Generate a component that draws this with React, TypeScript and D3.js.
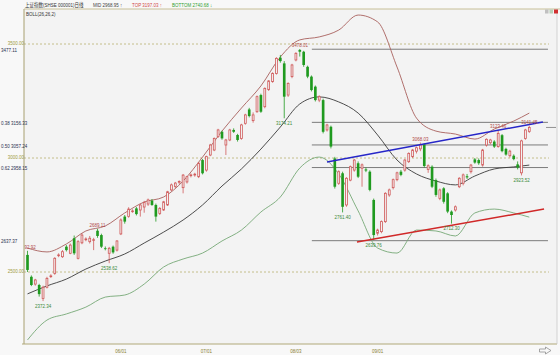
import React from "react";
import * as d3 from "d3";

const W = 560;
const H = 355;

// Daily OHLC (index 0 = first visible session)
const opens = [2575,2479,2447,2443,2384,2433,2480,2494,2572,2567,2611,2582,2648,2560,2628,2643,2633,2640,2681,2662,2604,2582,2611,2596,2667,2743,2743,2767,2779,2772,2785,2798,2813,2794,2757,2772,2794,2860,2875,2894,2870,2895,2924,2927,2918,2991,2947,3013,3035,3094,3115,3057,3079,3123,3101,3086,3152,3213,3164,3203,3276,3225,3300,3335,3371,3440,3415,3276,3357,3430,3474,3466,3400,3357,3313,3254,3254,3123,3137,2998,2889,2933,2794,2903,2947,2977,2955,2950,2940,2816,2670,2677,2721,2838,2870,2905,2940,2947,2984,3006,3030,3040,3060,2950,2962,2903,2823,2867,2845,2765,2772,2874,2889,2920,2940,2994,2991,2969,3057,3067,3072,3050,3100,3040,3010,3010,2972,2935,3086,3116];
const highs = [2592.92,2485,2470,2448,2440,2479,2490,2565,2582,2596,2618,2625,2660,2640,2670,2652,2658,2650,2689.11,2668,2612,2610,2616,2640,2735,2750,2784,2775,2785,2800,2812,2822,2820,2800,2785,2812,2856,2888,2895,2902,2930,2922,2932,2935,2982,2996,3010,3062,3090,3128,3120,3084,3128,3130,3106,3150,3194,3220,3200,3274,3282,3310,3342,3376,3442,3452,3425,3332,3413,3464,3478.01,3470,3405,3362,3318,3275,3260,3150,3142,3005,2946,2940,2916,2967,2996,2985,2976,2958,2946,2822,2690,2726,2850,2866,2910,2940,2948,2996,3025,3040,3050,3068.03,3064,2972,2968,2910,2866,2872,2850,2770,2792,2916,2932,2930,2974,3000,2998,3040,3086,3084,3078,3123.46,3105,3045,3036,3016,2985,3080,3128,3141.45];
const lows = [2500,2438,2440,2392,2372.34,2428,2474,2488,2565,2562,2590,2578,2575,2555,2622,2635,2625,2596,2650,2605,2595,2538.62,2580,2590,2662,2712,2738,2760,2748,2743,2760,2790,2790,2721,2750,2768,2790,2855,2868,2885,2845,2888,2915,2918,2912,2928,2940,3008,3030,3088,3080,3013,3074,3110,3072,3080,3146,3178,3155,3198,3198,3218,3294,3330,3366,3418,3174.21,3268,3350,3424,3445,3400,3350,3292,3248,3245,3108,3116,3042,2866,2882,2761.40,2786,2898,2940,2912,2874,2938,2854,2639.76,2660,2670,2715,2830,2862,2898,2920,2940,2978,3000,3020,3030,2958,2935,2868,2830,2815,2800,2758,2712.30,2765,2868,2880,2908,2932,2975,2970,2962,3050,3060,3044,3045,3025,3010,3002,2990,2950,2923.52,3080,3110];
const closes = [2509,2443,2465,2403,2433,2472,2483,2560,2575,2589,2596,2618,2582,2633,2662,2645,2648,2642,2658,2611,2603,2604,2586,2636,2728,2721,2776,2768,2754,2794,2805,2816,2794,2743,2779,2808,2852,2882,2890,2897,2925,2918,2926,2929,2977,2933,3006,3057,3086,3123,3086,3079,3123,3115,3079,3145,3189,3184,3189,3269,3203,3305,3338,3371,3437,3425,3269,3327,3408,3459,3466,3408,3357,3298,3254,3269,3115,3145,3050,2874,2940,2786,2911,2962,2991,2918,2970,2945,2860,2662,2684,2721,2845,2860,2905,2935,2926,2991,3020,3035,3045,3057,2965,2966,2874,2838,2860,2808,2765,2750,2786,2911,2926,2915,2969,2980,2977,3035,3082,3079,3050,3108,3030,3015,3030,2995,2958,3075,3123,3134];

// x-axis ticks
const tickIdx = [24, 46, 69, 90];
const tickLabels = ["06/01", "07/01", "08/03", "09/01"];

// BOLL(26,26,2) read at sampled sessions
const bandIdx = [0,5,10,15,20,25,30,35,40,45,50,55,60,65,70,75,80,85,90,95,100,105,110,115,120,125,129];
const bandUpper = [2605,2588,2623,2680,2702,2759,2807,2829,2899,3004,3118,3219,3316,3443,3518,3531,3561,3627,3597,3399,3175,3118,3105,3083,3127,3162,3197.03];
const bandMid = [2404,2439,2469,2513,2548,2579,2627,2675,2728,2794,2877,2952,3039,3136,3237,3268,3246,3197,3101,2991,2930,2899,2882,2921,2952,2961,2968.95];
const bandLower = [2202,2289,2316,2346,2390,2399,2447,2522,2557,2583,2636,2684,2763,2829,2956,3004,2930,2768,2605,2583,2684,2680,2658,2759,2776,2759,2740.68];

// price grid
const gridLevels = [3500, 3000, 2500];
const gridLabels = ["3500.00", "3000.00", "2500.00"];

// golden section lines
const fibLevels = [3477.11, 3156.33, 3057.24, 2958.15, 2637.37];
const fibLabels = ["3477.11", "0.38 3156.33", "0.50 3057.24", "0.62 2958.15", "2637.37"];
const fibRange = [73.1, 133.8];

// trend lines [index, price]
const blueLine = [[77.0, 2982.5], [132.5, 3158]];
const redLine = [[84.7, 2632], [132.8, 2776]];

// extreme labels
const markIdx = [0, 4, 18, 21, 66, 70, 81, 89, 101, 109, 121, 127, 129];
const markText = ["2592.92", "2372.34", "2689.11", "2538.62", "3174.21", "3478.01", "2761.40", "2639.76", "3068.03", "2712.30", "3123.46", "2923.52", "3141.45"];
const markIsHigh = [true, false, true, false, false, true, false, false, true, false, true, false, true];

const UP = "#d05a5a";
const DOWN = "#1f9a1f";
const PLOT_BG = "#f3f3f3";
const FONT = "'Liberation Sans', 'DejaVu Sans', 'Noto Sans CJK SC', sans-serif";

// narrow text: small glyphs squeezed horizontally
function T(props: { x: number; y: number; s: string; fill: string; anchor?: string }) {
  const { x, y, s, fill, anchor = "start" } = props;
  return (
    <g transform={`translate(${x},${y}) scale(0.82,1)`}>
      <text
        x={0}
        y={0}
        fill={fill}
        fontSize={5.5}
        fontFamily={FONT}
        textAnchor={anchor as any}
        dominantBaseline="central"
      >
        {s}
      </text>
    </g>
  );
}

export default function App() {
  const N = closes.length;
  const xs = d3.scaleLinear().domain([0, N - 1]).range([27.5, 529.3]);
  const ys = d3.scaleLinear().domain([2500, 3500]).range([272, 44]);
  const step = xs(1) - xs(0);
  const bw = step * 0.68;

  const plotL = 24, plotT = 9, plotR = 557, plotB = 344;

  const bandLine = (vals: number[]) =>
    d3
      .line<number>()
      .x((_, i) => xs(bandIdx[i]))
      .y((v) => ys(v))
      .curve(d3.curveMonotoneX)(vals) as string;

  const segLine = (pts: number[][]) =>
    d3
      .line<number[]>()
      .x((p) => xs(p[0]))
      .y((p) => ys(p[1]))(pts) as string;

  return (
    <svg
      width={W}
      height={H}
      viewBox={`0 0 ${W} ${H}`}
      style={{ position: "absolute", left: 0, top: 0, display: "block", background: "#f8f8f8" }}
    >
      <defs>
        <clipPath id="plotClip">
          <rect x={plotL} y={plotT} width={plotR - plotL} height={plotB - plotT} />
        </clipPath>
      </defs>
      <rect x={plotL} y={plotT} width={plotR - plotL} height={plotB - plotT} fill={PLOT_BG} />

      {/* dashed price grid */}
      {gridLevels.map((lv, k) => (
        <line key={"g" + k} x1={plotL} x2={plotR - 8} y1={ys(lv)} y2={ys(lv)} stroke="#b8b070" strokeWidth={0.8} strokeDasharray="2,2" />
      ))}

      {/* golden section lines */}
      {fibLevels.map((lv, k) => (
        <line key={"f" + k} x1={xs(fibRange[0])} x2={xs(fibRange[1])} y1={ys(lv)} y2={ys(lv)} stroke="#6e6e6e" strokeWidth={0.9} />
      ))}

      <g clipPath="url(#plotClip)">
        {/* bands */}
        <path d={bandLine(bandUpper)} fill="none" stroke="#a8605c" strokeWidth={0.9} />
        <path d={bandLine(bandMid)} fill="none" stroke="#3a3a3a" strokeWidth={0.9} />
        <path d={bandLine(bandLower)} fill="none" stroke="#76a876" strokeWidth={0.9} />

        {/* candles */}
        {closes.map((c, i) => {
          const o = opens[i];
          const up = c >= o;
          const col = up ? UP : DOWN;
          const cx = xs(i);
          const top = ys(Math.max(o, c));
          const bot = ys(Math.min(o, c));
          const h = Math.max(bot - top, 0.8);
          return (
            <g key={"c" + i}>
              <line x1={cx} x2={cx} y1={ys(highs[i])} y2={ys(lows[i])} stroke={col} strokeWidth={0.8} />
              {up ? (
                <rect x={cx - bw / 2 + 0.4} y={top} width={bw - 0.8} height={h} fill={PLOT_BG} stroke={col} strokeWidth={0.8} />
              ) : (
                <rect x={cx - bw / 2} y={top} width={bw} height={h} fill={col} />
              )}
            </g>
          );
        })}

        {/* trend lines */}
        <path d={segLine(blueLine)} stroke="#2626c8" strokeWidth={1.5} fill="none" />
        <path d={segLine(redLine)} stroke="#d02828" strokeWidth={1.5} fill="none" />

        {/* extreme labels */}
        {markIdx.map((mi, k) => {
          const hi = markIsHigh[k];
          const py = hi ? ys(highs[mi]) - 4 : ys(lows[mi]) + 4.5;
          return <T key={"m" + k} x={xs(mi)} y={py} s={markText[k]} fill={hi ? "#b04848" : "#3a8a3a"} anchor="middle" />;
        })}
      </g>

      {/* frame */}
      <line x1={plotL} x2={plotL} y1={plotT} y2={plotB} stroke="#a8a070" strokeWidth={1} />
      <line x1={plotL} x2={W} y1={plotT} y2={plotT} stroke="#c8c098" strokeWidth={1} />
      <line x1={plotL - 2} x2={plotR} y1={plotB} y2={plotB} stroke="#b0a878" strokeWidth={1} />
      <line x1={plotR} x2={plotR} y1={plotT} y2={plotB} stroke="#c8c8c8" strokeWidth={0.8} />

      {/* left labels */}
      {gridLevels.map((lv, k) => (
        <T key={"gl" + k} x={plotL} y={ys(lv) - 1} s={gridLabels[k]} fill="#a09a3c" anchor="end" />
      ))}
      {fibLevels.map((lv, k) => (
        <T key={"fl" + k} x={1} y={ys(lv) + 0.6} s={fibLabels[k]} fill="#283050" />
      ))}

      {/* x-axis labels */}
      {tickIdx.map((ti, k) => (
        <T key={"t" + k} x={xs(ti)} y={350.5} s={tickLabels[k]} fill="#8a8030" anchor="middle" />
      ))}

      {/* header */}
      <T x={25} y={4.5} s="上证指数(SHSE 000001)日线" fill="#333333" />
      <T x={93} y={4.5} s="MID 2968.95 ↑" fill="#444444" />
      <T x={132} y={4.5} s="TOP 3197.03 ↑" fill="#d04848" />
      <T x={172} y={4.5} s="BOTTOM 2740.68 ↓" fill="#30a030" />
      <T x={26} y={13.5} s="BOLL(26,26,2)" fill="#333333" />

      {/* window icons */}
      <rect x={545} y={9.5} width={3.5} height={4} fill="#c0c0c0" />
      <rect x={549.5} y={9.5} width={3.5} height={4} fill="#b8d0b8" />
      <rect x={554} y={9.5} width={4} height={4} fill="#d03030" />
      <line x1={546} x2={556} y1={ys(closes[N - 1])} y2={ys(closes[N - 1])} stroke="#909090" strokeWidth={1} />
      <path d="M539.5,349 h6 v-2 l5.5,3.5 l-5.5,3.5 v-2 h-6 z" fill="none" stroke="#909090" strokeWidth={0.8} />
    </svg>
  );
}
